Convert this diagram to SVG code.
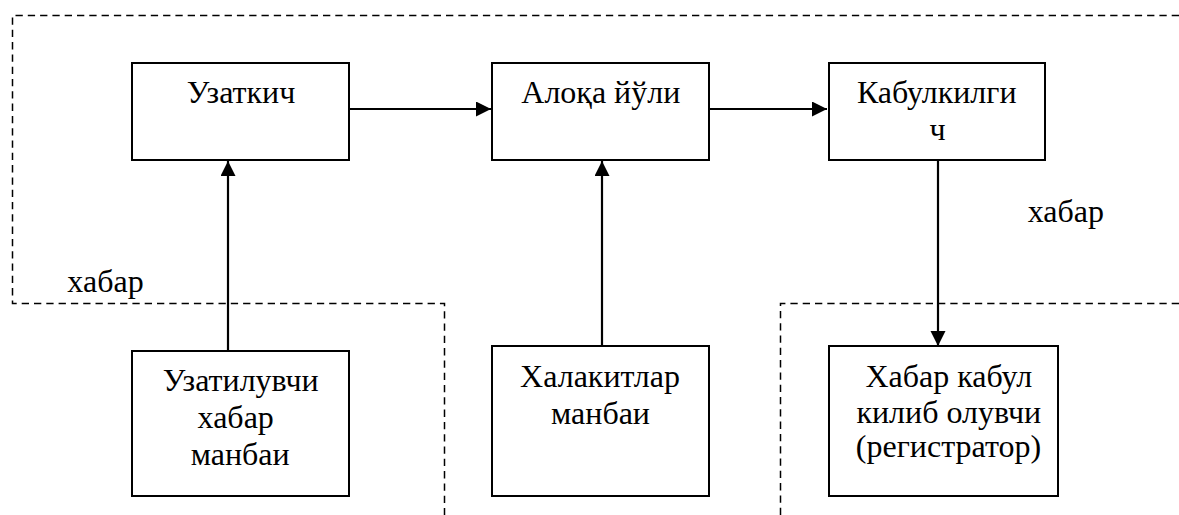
<svg xmlns="http://www.w3.org/2000/svg" width="1179" height="515" viewBox="0 0 1179 515">
<style>
.box{fill:#fff;stroke:#000;stroke-width:2}
.t{font-size:32px;fill:#000;text-anchor:middle}
.dash{fill:none;stroke:#000;stroke-width:1.5;stroke-dasharray:7.3 5}
.conn{fill:none;stroke:#000;stroke-width:2.2;marker-end:url(#ah)}
</style>
<defs>
<marker id="ah" markerUnits="userSpaceOnUse" markerWidth="15" markerHeight="16" refX="15" refY="7.5" orient="auto">
<path d="M0,0 L15,7.5 L0,15 Z" fill="#000"/>
</marker>
</defs>
<g id="boundaries">
<path class="dash" d="M1179,15.5 H12.5 V303.5 H444.5 V515"/>
<path class="dash" d="M1179,303.5 H780.5 V515"/>
</g>
<g id="connectors">
<path class="conn" d="M349,109 H491"/>
<path class="conn" d="M709,109 H827"/>
<path class="conn" d="M228,352.5 V161"/>
<path class="conn" d="M602,350 V161"/>
<path class="conn" d="M938,157 V346"/>
</g>
<g font-family="'Liberation Serif','Times New Roman','DejaVu Serif',serif">
<g id="n-uzatkich">
<rect class="box" x="132" y="63" width="217" height="97"/>
<text class="t" x="241" y="103.3">Узаткич</text>
</g>
<g id="n-aloka">
<rect class="box" x="492" y="63" width="217" height="97"/>
<text class="t" x="600.8" y="103.3">Алоқа йўли</text>
</g>
<g id="n-kabul">
<rect class="box" x="829" y="63" width="216" height="97"/>
<text class="t" x="936.7" y="103.3">Кабулкилги</text>
<text class="t" x="937.5" y="140">ч</text>
</g>
<g id="n-source">
<rect class="box" x="132" y="351" width="217" height="145"/>
<text class="t" x="240.7" y="391">Узатилувчи</text>
<text class="t" x="235.7" y="428.3">хабар</text>
<text class="t" x="240.2" y="465">манбаи</text>
</g>
<g id="n-noise">
<rect class="box" x="492" y="346" width="217" height="150"/>
<text class="t" x="600" y="386.7">Халакитлар</text>
<text class="t" x="600.5" y="424">манбаи</text>
</g>
<g id="n-receiver">
<rect class="box" x="829" y="346" width="229" height="150"/>
<text class="t" x="948.8" y="386.7">Хабар кабул</text>
<text class="t" x="948.8" y="422.7">килиб олувчи</text>
<text class="t" x="948.5" y="457">(регистратор)</text>
</g>
<g id="labels">
<text class="t" x="105.5" y="291.7">хабар</text>
<text class="t" x="1065.8" y="221.7">хабар</text>
</g>
</g>
</svg>
